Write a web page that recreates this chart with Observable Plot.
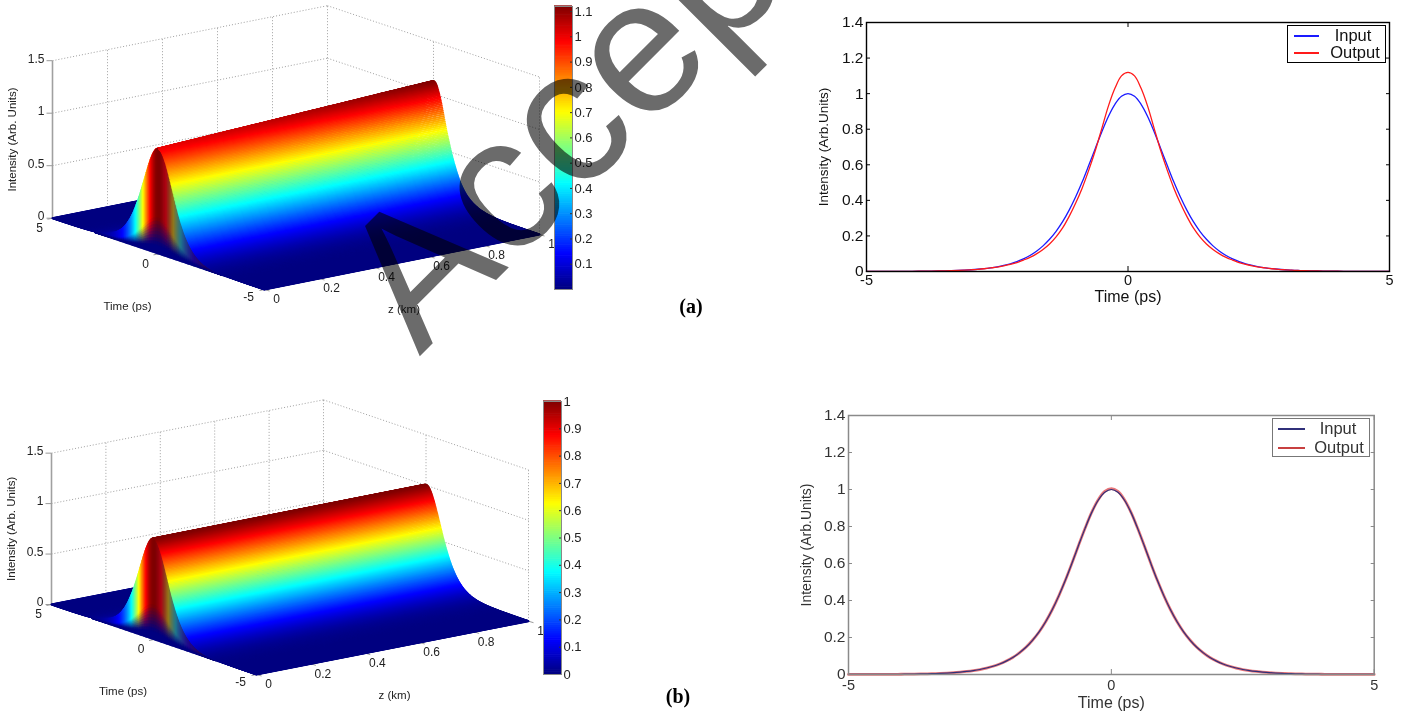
<!DOCTYPE html>
<html><head><meta charset="utf-8">
<script src="https://cdn.jsdelivr.net/npm/d3@7"></script>
<script src="https://cdn.jsdelivr.net/npm/@observablehq/plot@0.6"></script>
<style>
html,body{margin:0;padding:0;background:#fff;overflow:hidden}
#page{position:relative;width:1419px;height:713px;overflow:hidden;font-family:"Liberation Sans",Arial,sans-serif}
.legend{position:absolute;box-sizing:border-box;background:#fff;color:#111;font-size:16.5px}
.legend i{position:absolute;height:1.5px}
.legend span{position:absolute;transform:translate(-50%,-50%);white-space:nowrap}
.tag{position:absolute;font:bold 20px "Liberation Serif",serif;color:#000;transform:translate(-50%,-50%)}
</style></head><body><div id="page"></div>
<script>
// Values: intensity at |t| = 0, 0.125, 0.25 ... 5 ps (curves are symmetric about t = 0)
const profileStep = 0.125;
const inputA  = [1,.985,.94,.872,.786,.692,.597,.504,.42,.345,.28,.226,.181,.144,.114,.09,.0707,.0555,.0435,.034,.0266,.0208,.0162,.0126,.0099,.0077,.006,.0047,.0036,.0028,.0022,.0017,.0013,.001,.0008,.0006,.0005,.0004,.0003,.0002,.0002];
const outputA = [1.12,1.1,1.03,.93,.805,.68,.57,.47,.385,.31,.245,.195,.155,.124,.099,.079,.064,.05,.04,.032,.025,.02,.0155,.012,.0095,.0074,.0058,.0045,.0035,.0027,.0021,.0016,.0013,.001,.0008,.0006,.0005,.0004,.0003,.0002,.0002];
const inputB  = [1,.985,.942,.875,.79,.697,.601,.509,.425,.35,.285,.23,.185,.147,.117,.092,.0725,.057,.0445,.035,.027,.021,.0165,.013,.01,.0078,.0061,.0047,.0037,.0029,.0022,.0017,.0013,.001,.0008,.0006,.0005,.0004,.0003,.0002,.0002];
const outputB = [1.005,.99,.945,.876,.79,.697,.601,.509,.425,.35,.285,.23,.185,.147,.117,.092,.0725,.057,.0445,.035,.027,.021,.0165,.013,.01,.0078,.0061,.0047,.0037,.0029,.0022,.0017,.0013,.001,.0008,.0006,.0005,.0004,.0003,.0002,.0002];
const timeTicks2D = [-5,0,5];
const intensityTicks2D = [0,.2,.4,.6,.8,1,1.2,1.4];
const intensityTicks3D = [0,.5,1,1.5];
const zTicks = [0,.2,.4,.6,.8,1];
const timeTicks3D = [5,0,-5];
const colorbarTicksA = [.1,.2,.3,.4,.5,.6,.7,.8,.9,1,1.1];
const colorbarTicksB = [0,.1,.2,.3,.4,.5,.6,.7,.8,.9,1];

const page = document.getElementById("page");
const FONT = '"Liberation Sans",Arial,sans-serif';
const fmt = d => String(+(+d).toFixed(1));
const clamp = v => Math.max(0, Math.min(1, v));
function jet(v){ // MATLAB jet on 0..1
  const c = a => Math.round(255*clamp(1.5-Math.abs(4*v-a)));
  return `rgb(${c(3)},${c(2)},${c(1)})`;
}
// Smooth lookup in a read-off half profile (only used to shade the surface mesh)
function sampler(arr){
  const at = i => arr[Math.min(Math.abs(i), arr.length-1)];
  return t => {
    const u = Math.abs(t)/profileStep, i = Math.floor(u), f = u-i;
    const p0=at(i-1),p1=at(i),p2=at(i+1),p3=at(i+2);
    return Math.max(0, .5*((2*p1)+(-p0+p2)*f+(2*p0-5*p1+4*p2-p3)*f*f+(-p0+3*p1-3*p2+p3)*f*f*f));
  };
}
function mirrored(arr){
  const rows = arr.map((v,i)=>({t:i*profileStep,I:v}));
  return rows.slice(1).reverse().map(d=>({t:-d.t,I:d.I})).concat(rows);
}
function place(svg){ page.appendChild(svg); return svg; }

function surface3D(cfg){
  const {x0,y0,tx,ty,zx,zy,iy,cmax,input,output,top,segs} = cfg;
  const P = (t,z,I)=>[x0+(5-t)/10*tx+z*zx, y0+(5-t)/10*ty+z*zy-I*iy];
  const inp = sampler(input), out = sampler(output);
  const L = (a,b,extra={})=>({x1:a[0],y1:a[1],x2:b[0],y2:b[1],...extra});
  const links = [];
  const navy = "rgb(0,0,128)";
  const curtain = ()=>{
    for(let k=3*64;k>=-5*64;k-=2){
      const t=k/64, I=inp(t), a=P(t,0,I), b=P(t,0,0), h=b[1]-a[1];
      const base=jet(Math.min(1,I));
      const c = t<0 ? d3.interpolateRgb(base,"#3a0a30")(Math.min(.55,-t*1.1)) : base;
      const mix=d3.interpolateRgb(c,navy);
      const seg=(f0,f1,col)=>links.push(L([a[0],a[1]+h*f0],[a[0],a[1]+h*f1],{s:col,w:1.6}));
      if(I<.01){ seg(0,1,navy); continue; }
      seg(0,.66,c);
      for(let j=0;j<8;j++){const f=j/8; seg(.66+.26*f,.66+.26*(f+1/8),mix(f+.06));}
      seg(.92,1,navy);
    }
  };
  for(let k=320;k>=-320;k--){
    if(k===-1) curtain();
    const t=k/64, i0=inp(t), i1=out(t), n=Math.abs(t)>3.5?1:segs;
    for(let s=0;s<n;s++){
      const z0=s/n, z1=(s+1)/n, a=i0+(i1-i0)*z0, b=i0+(i1-i0)*z1;
      links.push(L(P(t,z0,a),P(t,z1,b),{s:jet(clamp(((a+b)/2)/cmax)),w:2}));
    }
  }
  // walls
  const grid=[];
  for(const I of [0,.5,1,1.5]){ grid.push(L(P(5,0,I),P(5,1,I))); grid.push(L(P(5,1,I),P(-5,1,I))); }
  for(const z of zTicks.slice(1)) grid.push(L(P(5,z,0),P(5,z,1.5)));
  for(const t of [0,-5]) grid.push(L(P(t,1,0),P(t,1,1.5)));
  const axisI=[L(P(5,0,0),P(5,0,1.5))];
  const tickI=intensityTicks3D.map(I=>{const a=P(5,0,I);return L(a,[a[0]-6,a[1]]);});
  const tickZ=zTicks.map(z=>{const a=P(-5,z,0);return L(a,[a[0]+5,a[1]+1.5]);});
  const tickT=timeTicks3D.map(t=>{const a=P(t,0,0);return L(a,[a[0]-5,a[1]+1]);});
  const tx1 = {fontSize:12,fill:"#222",fontFamily:FONT};
  const lab = {fontSize:11.5,fill:"#222",fontFamily:FONT};
  const w=600,h=345;
  return place(Plot.plot({
    width:w,height:h,margin:0,
    x:{type:"identity",axis:null},y:{type:"identity",axis:null},color:{type:"identity"},
    style:{position:"absolute",left:"0px",top:top+"px",background:"transparent",fontFamily:FONT},
    marks:[
      Plot.link(grid,{x1:"x1",y1:"y1",x2:"x2",y2:"y2",stroke:"#a0a0a0",strokeWidth:1,strokeDasharray:"1,2"}),
      Plot.link(axisI,{x1:"x1",y1:"y1",x2:"x2",y2:"y2",stroke:"#a0a0a0",strokeWidth:1.6}),
      Plot.link(tickI.concat(tickZ,tickT),{x1:"x1",y1:"y1",x2:"x2",y2:"y2",stroke:"#999",strokeWidth:1}),
      Plot.link(links,{x1:"x1",y1:"y1",x2:"x2",y2:"y2",stroke:"s",strokeWidth:"w",strokeLinecap:"round"}),
      Plot.text(intensityTicks3D,{x:I=>P(5,0,I)[0]-8,y:I=>P(5,0,I)[1]-2,text:fmt,textAnchor:"end",...tx1}),
      Plot.text(zTicks,{x:z=>P(-5,z,0)[0]+12,y:z=>P(-5,z,0)[1]+10,text:fmt,...tx1}),
      Plot.text(timeTicks3D,{x:t=>P(t,0,0)[0]-(t<0?16:13),y:t=>P(t,0,0)[1]+(t<0?8:10),text:fmt,...tx1}),
      Plot.text(["Time (ps)"],{x:()=>P(0,0,0)[0]-31,y:()=>P(0,0,0)[1]+52,text:d=>d,...lab}),
      Plot.text(["z (km)"],{x:()=>P(-5,.5,0)[0]+2,y:()=>P(-5,.5,0)[1]+47,text:d=>d,...lab}),
      Plot.text(["Intensity (Arb. Units)"],{x:()=>P(5,0,.75)[0]-40,y:()=>P(5,0,.75)[1],text:d=>d,rotate:-90,...lab})
    ]
  }));
}

function colorbar(cfg){
  const {left,top,barW,barH,cmax,ticks} = cfg;
  const levels = d3.range(128).map(i=>({y1:i/128*cmax,y2:(i+1.3)/128*cmax,c:jet((i+.5)/128)}));
  return place(Plot.plot({
    width:barW+36,height:barH+16,marginLeft:0,marginRight:36,marginTop:8,marginBottom:8,
    x:{domain:[0,1],axis:null},y:{domain:[0,cmax],axis:null},color:{type:"identity"},
    style:{position:"absolute",left:left+"px",top:(top-8)+"px",background:"transparent",fontFamily:FONT,overflow:"visible"},
    marks:[
      Plot.rect(levels,{x1:0,x2:1,y1:"y1",y2:"y2",fill:"c"}),
      Plot.axisY({anchor:"right",ticks,tickSize:-3,tickPadding:5,tickFormat:fmt,label:null,fontSize:13,color:"#222",stroke:"#333"}),
      Plot.frame({stroke:"#888",strokeWidth:1})
    ]
  }));
}

function profile2D(cfg){
  const {left,top,width,height,ml,mr,mt,mb,inp,out,frame,ink,cIn,cOut,wIn,wOut,inFirst,padX,lx,ly,fsY,opOut} = cfg;
  const lineIn = Plot.line(mirrored(inp),{x:"t",y:"I",stroke:cIn,strokeWidth:wIn,curve:"catmull-rom"});
  const lineOut = Plot.line(mirrored(out),{x:"t",y:"I",stroke:cOut,strokeWidth:wOut,strokeOpacity:opOut,curve:"catmull-rom"});
  return place(Plot.plot({
    width,height,marginLeft:ml,marginRight:mr,marginTop:mt,marginBottom:mb,
    x:{domain:[-5,5]},y:{domain:[0,1.4]},
    style:{position:"absolute",left:left+"px",top:top+"px",background:"transparent",fontFamily:FONT,overflow:"visible"},
    marks:[
      Plot.axisX({ticks:timeTicks2D,tickSize:-5,tickPadding:padX,fontSize:14.5,color:ink,stroke:frame,tickFormat:fmt,label:null}),
      Plot.axisX({anchor:"top",ticks:timeTicks2D,tickSize:-4,tickFormat:()=>"",stroke:frame,label:null}),
      Plot.axisY({ticks:intensityTicks2D,tickSize:-4,tickPadding:7,fontSize:15.5,color:ink,stroke:frame,tickFormat:fmt,label:null}),
      Plot.axisY({anchor:"right",ticks:intensityTicks2D,tickSize:-4,tickFormat:()=>"",stroke:frame,label:null}),
      Plot.text(["Time (ps)"],{frameAnchor:"bottom",lineAnchor:"middle",dy:lx,text:d=>d,fontSize:16,fill:ink,fontFamily:FONT}),
      Plot.text(["Intensity (Arb.Units)"],{frameAnchor:"left",textAnchor:"middle",lineAnchor:"middle",dx:ly,rotate:-90,text:d=>d,fontSize:fsY,fill:ink,fontFamily:FONT}),
      ...(inFirst?[lineIn,lineOut]:[lineOut,lineIn]),
      Plot.frame({stroke:frame,strokeWidth:cfg.frameWidth})
    ]
  }));
}

function legend(cfg){
  const d=document.createElement("div");
  d.className="legend";
  Object.assign(d.style,{left:cfg.x+"px",top:cfg.y+"px",width:cfg.w+"px",height:cfg.h+"px",border:cfg.border,color:cfg.ink});
  cfg.rows.forEach(r=>{
    const i=document.createElement("i");
    Object.assign(i.style,{left:cfg.lx+"px",width:cfg.lw+"px",top:r.y+"px",background:r.c});
    const s=document.createElement("span");
    s.textContent=r.label;
    Object.assign(s.style,{left:r.tx+"px",top:r.y+"px"});
    d.append(i,s);
  });
  page.appendChild(d);
}
function tag(text,x,y){const d=document.createElement("div");d.className="tag";d.textContent=text;d.style.left=x+"px";d.style.top=y+"px";page.appendChild(d);}

surface3D({x0:52,y0:217.7,tx:212,ty:71.3,zx:275,zy:-55,iy:105,cmax:1.12,input:inputA,output:outputA,top:0,segs:32});
surface3D({x0:51,y0:224,tx:205,ty:70,zx:272,zy:-53.3,iy:100.9,cmax:1,input:inputB,output:outputB,top:380,segs:1});
colorbar({left:554,top:6,barW:18,barH:283,cmax:1.12,ticks:colorbarTicksA});
colorbar({left:543,top:401,barW:18,barH:273,cmax:1,ticks:colorbarTicksB});

profile2D({left:800,top:0,width:619,height:320,ml:66,mr:30,mt:22,mb:49,inp:inputA,out:outputA,frame:"#000",ink:"#111",cIn:"#1a1aff",cOut:"#ff1a1a",wIn:1.3,wOut:1.3,opOut:1,inFirst:true,padX:8,lx:25,ly:-43,fsY:13.5,frameWidth:1.4});
profile2D({left:780,top:395,width:620,height:318,ml:68,mr:26.3,mt:20,mb:39,inp:inputB,out:outputB,frame:"#8a8a8a",ink:"#333",cIn:"#30307a",cOut:"#e0484c",wIn:1.2,wOut:2.8,opOut:.75,inFirst:false,padX:10,lx:28,ly:-42,fsY:14,frameWidth:1.5});

legend({x:1287,y:25,w:99,h:38,border:"1.6px solid #000",ink:"#111",lx:6,lw:25,rows:[{y:9,c:"#1a1aff",label:"Input",tx:65},{y:26,c:"#ff1a1a",label:"Output",tx:67}]});
legend({x:1272,y:418,w:98,h:39,border:"1.2px solid #777",ink:"#333",lx:5,lw:27,rows:[{y:9,c:"#30307a",label:"Input",tx:65},{y:28,c:"#c84040",label:"Output",tx:66}]});
tag("(a)",691,306);
tag("(b)",678,696);

// Watermark over everything, multiplying with what lies below
place(Plot.plot({
  width:1419,height:713,margin:0,
  x:{axis:null},y:{axis:null},
  style:{position:"absolute",left:"0px",top:"0px",background:"transparent",mixBlendMode:"multiply",pointerEvents:"none",fontFamily:FONT},
  marks:[Plot.text(["Accepted"],{frameAnchor:"bottom-left",dx:419,dy:-357,rotate:-45,textAnchor:"start",lineAnchor:"bottom",fontSize:190,fill:"#6b6b6b",fontFamily:FONT})]
}));
</script></body></html>
